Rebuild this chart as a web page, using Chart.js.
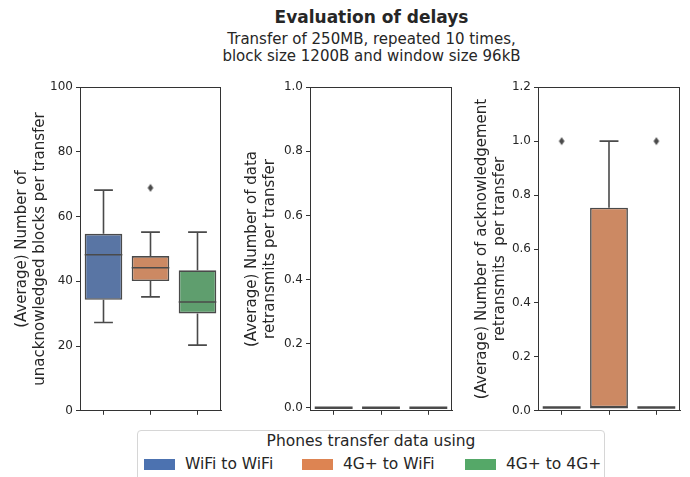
<!DOCTYPE html>
<html>
<head>
<meta charset="utf-8">
<script src="https://cdn.jsdelivr.net/npm/chart.js@4"></script>
<style>
  body { margin: 0; background: #fff; font-family: "DejaVu Sans", sans-serif; color: #262626; }
  #page { position: relative; width: 690px; height: 477px; overflow: hidden; }
  canvas { position: absolute; }
  .title { position: absolute; left: 0; width: 743px; text-align: center; white-space: nowrap; }
  #legend { position: absolute; left: 137px; top: 430px; width: 468px; height: 60px;
            border: 1px solid #d6d6d6; border-radius: 4px; box-sizing: border-box; }
  #legend .lt { position: absolute; left: 0; width: 100%; top: 1px; text-align: center; font-size: 15.5px; }
  #legend .item { position: absolute; top: 24px; font-size: 15.5px; white-space: nowrap; }
  #legend .patch { display: inline-block; width: 31px; height: 11px; vertical-align: -1px; margin-right: 10px; }
</style>
</head>
<body>
<div id="page">
  <div class="title" style="top:7px;font-size:17px;font-weight:bold;">Evaluation of delays</div>
  <div class="title" style="top:31px;font-size:15px;line-height:17px;">Transfer of 250MB, repeated 10 times,<br>block size 1200B and window size 96kB</div>
  <canvas id="c1" width="226" height="344" style="left:0px;top:77px"></canvas>
  <canvas id="c2" width="225" height="344" style="left:230px;top:77px"></canvas>
  <canvas id="c3" width="225" height="344" style="left:460px;top:77px"></canvas>
  <div id="legend">
    <div class="lt">Phones transfer data using</div>
  </div>
</div>
<script>
// categories (hue groups)
const categories = ["WiFi to WiFi", "4G+ to WiFi", "4G+ to 4G+"];
const legendColors = ["#4c72b0", "#dd8452", "#55a868"];
const boxColors = ["#5975a4", "#cc8963", "#5f9e6e"];

// panel 1: unacknowledged blocks per transfer
const unackLow = [27.3, 35.2, 20.3];
const unackQ1 = [34.3, 40.1, 30.1];
const unackMedian = [48.2, 44.2, 33.6];
const unackQ3 = [54.7, 47.8, 43.4];
const unackHigh = [68.2, 55.2, 55.2];
const unackOutliers = [[], [68.9], []];
const unackTicks = [0, 20, 40, 60, 80, 100];

// panel 2: data retransmits per transfer
const dataLow = [0, 0, 0];
const dataQ1 = [0, 0, 0];
const dataMedian = [0, 0, 0];
const dataQ3 = [0, 0, 0];
const dataHigh = [0, 0, 0];
const dataOutliers = [[], [], []];
const dataTicks = [0, 0.2, 0.4, 0.6, 0.8, 1.0];

// panel 3: acknowledgement retransmits per transfer
const ackLow = [0.0125, 0.0125, 0.0125];
const ackQ1 = [0.0125, 0.0125, 0.0125];
const ackMedian = [0.0125, 0.0125, 0.0125];
const ackQ3 = [0.0125, 0.753, 0.0125];
const ackHigh = [0.0125, 1.0, 0.0125];
const ackOutliers = [[1.0], [], [1.0]];
const ackTicks = [0, 0.2, 0.4, 0.6, 0.8, 1.0, 1.2];

const lineColor = "#4a4a4a";
const axisColor = "#333333";

// legend (html)
const legendEl = document.getElementById("legend");
const legendX = [6, 164, 327];
categories.forEach((c, i) => {
    let item = document.createElement("div");
    item.className = "item";
    item.style.left = legendX[i] + "px";
    item.innerHTML = '<span class="patch" style="background:' + legendColors[i] + '"></span>' + c;
    legendEl.appendChild(item);
});

// thin diamond marker like matplotlib 'd'
function diamond() {
    let cv = document.createElement("canvas");
    cv.width = 8; cv.height = 10;
    let g = cv.getContext("2d");
    g.fillStyle = lineColor;
    g.beginPath();
    g.moveTo(4, 1); g.lineTo(6.8, 5); g.lineTo(4, 9); g.lineTo(1.2, 5);
    g.closePath();
    g.fill();
    return cv;
}
const diamondImg = diamond();

// whiskers, caps, median + frame
const boxPlugin = {
    id: "boxPlugin",
    afterDatasetsDraw(chart) {
        let st = chart.options.plugins.boxPlugin;
        let xs = chart.scales.x, ys = chart.scales.y;
        let meta = chart.getDatasetMeta(0);
        let ctx = chart.ctx;
        ctx.save();
        ctx.strokeStyle = lineColor;
        ctx.lineWidth = 1.6;
        ctx.lineCap = "butt";
        categories.forEach((c, i) => {
            let x = xs.getPixelForValue(i);
            let w = meta.data[i].width;
            let cap = w / 2;
            let yLo = ys.getPixelForValue(st.low[i]);
            let yQ1 = ys.getPixelForValue(st.q1[i]);
            let yQ3 = ys.getPixelForValue(st.q3[i]);
            let yHi = ys.getPixelForValue(st.high[i]);
            let yMed = ys.getPixelForValue(st.median[i]);
            ctx.beginPath();
            if (yLo - yQ1 > 0.5) {
                ctx.moveTo(x, yQ1); ctx.lineTo(x, yLo);
                ctx.moveTo(x - cap / 2, yLo); ctx.lineTo(x + cap / 2, yLo);
            }
            if (yQ3 - yHi > 0.5) {
                ctx.moveTo(x, yQ3); ctx.lineTo(x, yHi);
                ctx.moveTo(x - cap / 2, yHi); ctx.lineTo(x + cap / 2, yHi);
            }
            ctx.stroke();
            ctx.beginPath();
            ctx.lineWidth = yQ1 - yQ3 < 1 ? 2.6 : 1.6;
            ctx.moveTo(x - w / 2, yMed); ctx.lineTo(x + w / 2, yMed);
            ctx.stroke();
            ctx.lineWidth = 1.6;
        });
        ctx.restore();
    },
    afterDraw(chart) {
        let a = chart.chartArea;
        let ctx = chart.ctx;
        ctx.save();
        ctx.strokeStyle = axisColor;
        ctx.lineWidth = 1;
        ctx.strokeRect(Math.round(a.left) + 0.5, Math.round(a.top) + 0.5,
                       Math.round(a.right - a.left) - 1, Math.round(a.bottom - a.top) - 1);
        ctx.restore();
    }
};

function makePanel(id, st, ticks, yMin, yMax, decimals, title, axisWidth) {
    let outlierPts = [];
    st.outliers.forEach((arr, i) => arr.forEach(v => outlierPts.push({ x: categories[i], y: v })));
    return new Chart(document.getElementById(id), {
        type: "bar",
        data: {
            labels: categories,
            datasets: [{
                data: categories.map((c, i) => [st.q1[i], st.q3[i]]),
                backgroundColor: boxColors,
                borderColor: lineColor,
                borderWidth: 1.6,
                borderSkipped: false,
                barPercentage: 0.8,
                categoryPercentage: 1.0
            }, {
                type: "scatter",
                data: outlierPts,
                pointStyle: diamondImg,
                radius: 4
            }]
        },
        options: {
            responsive: false,
            animation: false,
            devicePixelRatio: 1,
            layout: { padding: { top: 6, right: 3, left: 0, bottom: 0 } },
            plugins: {
                legend: { display: false },
                tooltip: { enabled: false },
                boxPlugin: st
            },
            scales: {
                x: {
                    type: "category",
                    offset: true,
                    grid: { display: true, drawOnChartArea: false, drawTicks: true, tickLength: 4, offset: false, color: axisColor },
                    border: { display: true, color: axisColor },
                    ticks: { display: false },
                    afterFit: s => { s.height = 8; }
                },
                y: {
                    min: yMin,
                    max: yMax,
                    grid: { display: true, drawOnChartArea: false, drawTicks: true, tickLength: 4, color: axisColor },
                    border: { display: true, color: axisColor },
                    ticks: {
                        color: "#262626",
                        padding: 3,
                        font: { family: "DejaVu Sans", size: 12 },
                        callback: v => Number(v).toFixed(decimals)
                    },
                    afterBuildTicks: s => { s.ticks = ticks.map(v => ({ value: v })); },
                    title: {
                        display: true,
                        text: title,
                        color: "#262626",
                        font: { family: "DejaVu Sans", size: 15, lineHeight: 1.2 },
                        padding: { top: 13, bottom: 4 }
                    },
                    afterFit: s => { s.width = axisWidth; }
                }
            }
        },
        plugins: [boxPlugin]
    });
}

makePanel("c1",
    { low: unackLow, q1: unackQ1, median: unackMedian, q3: unackQ3, high: unackHigh, outliers: unackOutliers },
    unackTicks, 0, 100, 0, ["(Average) Number of", "unacknowledged blocks per transfer"], 80);
makePanel("c2",
    { low: dataLow, q1: dataQ1, median: dataMedian, q3: dataQ3, high: dataHigh, outliers: dataOutliers },
    dataTicks, -0.0093, 1.0, 1, ["(Average) Number of data", "retransmits per transfer"], 80);
makePanel("c3",
    { low: ackLow, q1: ackQ1, median: ackMedian, q3: ackQ3, high: ackHigh, outliers: ackOutliers },
    ackTicks, 0, 1.2, 1, ["(Average) Number of acknowledgement", "retransmits  per transfer"], 78);
</script>
</body>
</html>
